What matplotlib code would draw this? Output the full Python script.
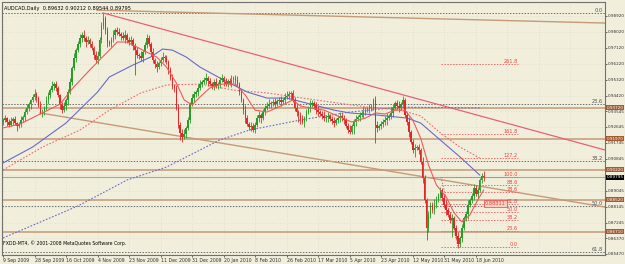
import numpy as np
import matplotlib
matplotlib.use("Agg")
import matplotlib.pyplot as plt

# ---- data (prices in pips, /1e4 later) ----
date_labels = ["9 Sep 2009", "28 Sep 2009", "16 Oct 2009", "4 Nov 2009", "23 Nov 2009",
               "11 Dec 2009", "31 Dec 2009", "20 Jan 2010", "8 Feb 2010", "26 Feb 2010",
               "17 Mar 2010", "5 Apr 2010", "23 Apr 2010", "12 May 2010", "31 May 2010",
               "18 Jun 2010"]

first_open = 9290
close_pips = [
    9304, 9315, 9293, 9276, 9298, 9310, 9287, 9270, 9281, 9304,
    9321, 9349, 9372, 9394, 9417, 9434, 9451, 9428, 9389, 9349,
    9349, 9372, 9417, 9445, 9473, 9496, 9507, 9485, 9445, 9389, 9360, 9383, 9417, 9462, 9519,
    9598, 9654, 9699, 9733, 9767, 9784, 9767, 9745, 9756, 9733, 9711, 9671, 9643, 9666, 9756, 9835, 9880,
    9812, 9745, 9733, 9756, 9784, 9812, 9801, 9790, 9779, 9767, 9784, 9756, 9745, 9756, 9722, 9699, 9671,
    9666, 9654, 9688, 9728,
    9767, 9733, 9688, 9643, 9620, 9603, 9626, 9643, 9660, 9654, 9632, 9586, 9541, 9496,
    9485, 9372, 9276, 9231, 9208, 9225, 9259, 9304, 9394, 9428, 9451, 9462, 9485, 9507,
    9519, 9530, 9541, 9524, 9507, 9496, 9519, 9496, 9507, 9530, 9541,
    9519, 9507, 9524, 9513, 9530, 9541, 9530, 9507, 9462, 9417, 9360, 9315, 9281, 9264, 9270, 9247,
    9276, 9315, 9332, 9315,
    9349, 9372, 9383, 9394, 9400, 9406, 9394, 9411, 9417, 9406, 9417, 9434, 9440, 9451, 9457, 9417,
    9372, 9349, 9332, 9304,
    9293, 9315, 9349, 9372, 9394, 9400, 9383, 9360, 9349, 9338, 9327, 9315, 9321, 9327, 9310, 9298,
    9287, 9304, 9315, 9327,
    9315, 9304, 9270, 9247, 9236, 9270, 9293, 9310, 9321, 9332, 9344, 9349, 9360, 9366, 9372, 9377,
    9417, 9276, 9259, 9270,
    9281, 9293, 9304, 9315, 9327, 9344, 9372, 9400, 9383, 9372, 9394, 9417,
    9332, 9293, 9236, 9180, 9134, 9146, 9151, 9134, 9067, 8976,
    8852, 8694, 8767, 8824, 8795, 8829, 8852, 8880, 8908, 8863, 8824, 8795, 8767, 8739, 8750, 8694,
    8649, 8603, 8637, 8694, 8750, 8773, 8824, 8852, 8875, 8920, 8886, 8908, 8965, 8988, 8979.5,
]
hi_ext = [
    12, 20, 8, 15, 25, 10, 18, 6, 14, 22,  10, 16, 24, 12, 8, 18, 30, 14, 10, 20,
    15, 12, 22, 18, 10, 26, 14, 20, 12, 8,  18, 24, 10, 16, 20, 14, 28, 12, 18, 22,
    16, 26, 12, 20, 14, 18, 10, 24, 30, 16,  22, 28, 14, 20, 10, 18, 26, 12, 16, 22,
    14, 20, 28, 10, 18, 24, 12, 16, 20, 14,  26, 12, 18, 22, 16, 10, 24, 14, 20, 12,
    18, 26, 14, 20, 10, 16, 22, 12, 18, 24,  14, 20, 26, 10, 18, 12, 22, 16, 14, 20,
    24, 12, 18, 26, 14, 20, 10, 16, 22, 12,  18, 24, 14, 20, 12, 16, 26, 10, 18, 22,
    14, 20, 12, 26, 16, 10, 22, 18, 14, 20,  24, 12, 18, 14, 20, 26, 10, 16, 22, 12,
    18, 24, 14, 20, 30, 16, 12, 15, 18, 22,  14, 20, 26, 12, 18, 10, 24, 16, 14, 20,
    22, 12, 18, 26, 14, 20, 10, 16, 22, 12,  18, 24, 14, 20, 12, 16, 26, 10, 18, 22,
    14, 20, 12, 26, 16, 10, 22, 18, 14, 20,  24, 12, 18, 14, 20, 26, 10, 36, 22, 12,
    18, 30, 14, 20, 12, 16, 26, 10, 18, 22,  14, 20, 12, 26, 16, 10, 22, 18, 14, 30,
    24, 12, 18, 14, 20, 26, 10, 16, 22, 12,  18, 24, 14, 20, 12, 16, 26, 10, 18, 22,
    14, 20, 12, 16, 28,
]
lo_ext = [
    16, 10, 22, 14, 8, 20, 12, 26, 10, 18,  14, 22, 10, 18, 26, 12, 16, 20, 14, 10,
    30, 16, 12, 20, 14, 10, 24, 18, 12, 22,  16, 10, 20, 26, 12, 18, 14, 22, 10, 16,
    20, 14, 26, 12, 18, 10, 22, 16, 24, 12,  18, 14, 20, 26, 12, 16, 10, 22, 18, 14,
    20, 12, 26, 16, 18, 18, 22, 140, 14, 20,  16, 24, 12, 18, 10, 22, 14, 20, 26, 12,
    18, 10, 24, 14, 20, 12, 16, 22, 10, 18,  40, 26, 14, 20, 12, 18, 10, 22, 16, 24,
    12, 18, 14, 20, 26, 10, 16, 22, 12, 18,  24, 14, 20, 12, 18, 10, 22, 16, 26, 12,
    18, 14, 20, 26, 10, 16, 22, 12, 18, 14,  20, 26, 12, 18, 14, 10, 22, 16, 20, 12,
    18, 24, 14, 20, 12, 16, 26, 10, 18, 22,  40, 20, 12, 26, 16, 10, 22, 18, 14, 20,
    24, 12, 18, 14, 20, 26, 10, 16, 22, 12,  18, 24, 14, 20, 12, 16, 12, 10, 45, 22,
    14, 20, 12, 26, 16, 10, 22, 18, 14, 100,  24, 12, 18, 14, 20, 26, 10, 16, 22, 12,
    18, 24, 14, 20, 12, 16, 26, 10, 18, 40,  14, 20, 12, 26, 16, 68, 22, 18, 14, 20,
    24, 12, 18, 14, 20, 26, 10, 16, 95, 12,  18, 24, 14, 20, 12, 16, 26, 10, 18, 22,
    14, 20, 12, 16, 18,
]

# moving averages: (bar, pips)
ma_fast_bar = [0, 8.6, 20, 29, 35.5, 44, 49, 54, 58, 63, 67, 71, 78, 83, 88, 92, 96, 100, 105, 111,
               118, 123, 128, 134, 141, 147, 151, 156, 163, 171, 177, 184, 189, 194, 199, 204, 208,
               212, 216, 220, 225, 229, 233, 237, 241, 244]
ma_fast_val = [9259, 9281, 9344, 9394, 9485, 9586, 9643, 9699, 9745, 9745, 9722, 9699, 9660, 9603,
               9513, 9417, 9389, 9434, 9485, 9507, 9507, 9445, 9360, 9349, 9383, 9417, 9383, 9372,
               9360, 9321, 9293, 9315, 9344, 9338, 9360, 9360, 9304, 9202, 9050, 8937, 8869, 8779,
               8728, 8767, 8852, 8908]
ma_mid_bar = [0, 20, 39, 54, 70, 83, 100, 117, 134, 159, 185, 202, 212, 222, 232, 242]
ma_mid_val = [9021, 9151, 9247, 9360, 9457, 9502, 9507, 9473, 9457, 9417, 9377, 9360, 9327, 9231,
              9151, 9089]
ma_slow_bar = [0, 15, 32, 48, 54, 66, 75, 81, 86, 93, 100, 112, 124, 134, 144, 154, 168, 176, 190,
               205, 212, 222, 232, 242]
ma_slow_val = [9061, 9151, 9287, 9462, 9547, 9615, 9660, 9705, 9699, 9660, 9603, 9530, 9462, 9428,
               9428, 9400, 9360, 9344, 9332, 9315, 9287, 9191, 9095, 8993]
ma_long_bar = [0, 38, 63, 83, 110, 125, 151, 176, 202, 242]
ma_long_val = [8637, 8818, 8965, 9038, 9191, 9247, 9304, 9349, 9377, 9372]

# horizontal lines and trend lines
hlines = [0.9372, 0.9197, 0.9022, 0.8852, 0.8671]
trend_top = ([47.7, 305.6], [0.9925, 0.9852])
trend_pink = ([50.8, 305.6], [0.9909, 0.91345])
trend_chan = ([18.8, 305.6], [0.9344, 0.8812])

fib1_hi, fib1_lo = 0.9909, 0.7722
fib1_levels = [0.0, 23.6, 38.2, 50.0, 61.8]
fib2_lo, fib2_hi = 0.8586, 0.8982
fib2_levels = [0.0, 23.6, 38.2, 50.0, 61.8, 78.6, 88.6, 100.0, 127.2, 161.8, 261.8]
fib2_tag = 0.88311

ytick_vals = [0.98920, 0.98020, 0.97120, 0.96220, 0.95320, 0.94420, 0.93545, 0.92645, 0.91745,
              0.90845, 0.89945, 0.89045, 0.88145, 0.87245, 0.86370, 0.85470]
# label hidden behind the current-price box in the terminal
ytick_hidden = 0.89945

# ---- derived ----
close = np.array(close_pips) / 1e4
opn = np.r_[first_open / 1e4, close[:-1]]
high = np.maximum(opn, close) + np.array(hi_ext) / 1e4
low = np.minimum(opn, close) - np.array(lo_ext) / 1e4
idx = np.arange(len(close))
last = close[-1]

BG = "#F1EFDC"
GREEN = "#2A9A2A"
RED = "#E02828"
TAN = "#C49A78"
BOX = "#A65A34"
FS = 3.6
FS_AX = 3.0

fig = plt.figure(figsize=(6.25, 2.64), dpi=100, facecolor=BG)
ax = fig.add_axes([2 / 625, 1 - 255 / 264, 603 / 625, 253 / 264], facecolor=BG)
ax.set_xlim(-0.5, 305.6)
ax.set_ylim(0.8541, 0.9971)

# grid
for v in ytick_vals:
    ax.axhline(v, color="#D6D4BE", lw=0.5, ls=(0, (1, 3)), zorder=0)
for b in range(0, 306, 16):
    ax.axvline(b, color="#D6D4BE", lw=0.5, ls=(0, (1, 3)), zorder=0)

# fibo 1 (full width dotted)
for lv in fib1_levels:
    p = fib1_hi - lv / 100 * (fib1_hi - fib1_lo)
    ax.axhline(p, color="#6E6E6E", lw=0.7, ls=(0, (1.5, 1.5)), zorder=1)
    ax.text(304.5, p, "%.1f" % lv, fontsize=FS, color="#505050", ha="right", va="bottom")

# horizontal lines
for p in hlines:
    ax.axhline(p, color=TAN, lw=1.1, zorder=1)
ax.axhline(last, color="#A8A898", lw=0.8, zorder=1)

# trend lines
ax.plot(*trend_top, color=TAN, lw=1.0, zorder=1)
ax.plot(*trend_pink, color="#E8607A", lw=0.9, zorder=1)
ax.plot(*trend_chan, color=TAN, lw=1.0, zorder=1)

# moving averages
ax.plot(ma_long_bar, np.array(ma_long_val) / 1e4, color="#6A6AC8", lw=0.8, ls=(0, (1.5, 1.5)), zorder=2)
ax.plot(ma_mid_bar, np.array(ma_mid_val) / 1e4, color="#F06A6A", lw=0.8, ls=(0, (1.5, 1.5)), zorder=2)
ax.plot(ma_slow_bar, np.array(ma_slow_val) / 1e4, color="#6A6AC8", lw=0.8, zorder=2)

# candles
up = close >= opn
ax.vlines(idx, low, high, colors=np.where(up, GREEN, RED), lw=0.6, zorder=3)
ax.bar(idx, np.abs(close - opn) + 0.00008, bottom=np.minimum(opn, close), width=0.8,
       color=np.where(up, GREEN, RED), lw=0, zorder=3)

ax.plot(ma_fast_bar, np.array(ma_fast_val) / 1e4, color="#F05A5A", lw=0.8, zorder=4)

# fibo 2 (red dotted expansion)
for lv in fib2_levels:
    p = fib2_lo + lv / 100 * (fib2_hi - fib2_lo)
    ax.plot([222.3, 261.4], [p, p], color="#F06A6A", lw=0.7, ls=(0, (1.5, 1.5)), zorder=2)
    ax.text(261.4, p, "%.1f" % lv, fontsize=FS, color="#F04040", ha="right", va="bottom")
ax.plot([222.3, 231], [fib2_hi, fib2_lo], color="#F06A6A", lw=0.7, ls=(0, (1.5, 1.5)), zorder=2)
ax.text(250, fib2_tag, "%.5f" % fib2_tag, fontsize=FS, color="#F04040", ha="center", va="center",
        zorder=6, bbox=dict(boxstyle="square,pad=0.15", fc="#F6D0C0", ec="#F04040", lw=0.5))

# axes / ticks
ax.yaxis.tick_right()
ax.set_yticks(ytick_vals)
ax.set_yticklabels(["" if v == ytick_hidden else "%.5f" % v for v in ytick_vals])
ax.set_xticks(range(0, 241, 16))
ax.set_xticklabels(date_labels, ha="left")
ax.tick_params(axis="both", labelsize=FS_AX, length=1.5, width=0.5, pad=0.8, colors="#303030")
ax.tick_params(axis="x", labelsize=3.35)
for s in ax.spines.values():
    s.set_color("#707070")
    s.set_linewidth(0.8)

# price boxes on the right axis
for p in hlines:
    ax.text(1.0025, p, "%.5f" % p, transform=ax.get_yaxis_transform(), fontsize=FS_AX, color="white",
            ha="left", va="center", zorder=6, clip_on=False,
            bbox=dict(boxstyle="square,pad=0.12", fc=BOX, ec="none"))
ax.text(1.0025, last, "%.5f" % last, transform=ax.get_yaxis_transform(), fontsize=FS_AX, color="white",
        ha="left", va="center", zorder=6, clip_on=False,
        bbox=dict(boxstyle="square,pad=0.12", fc="black", ec="none"))

ax.text(0.004, 0.985, "AUDCAD,Daily  0.89632 0.90212 0.89544 0.89795", transform=ax.transAxes,
        fontsize=FS, color="black", va="top")
ax.text(0.002, 0.035, "FXDD-MT4, \u00a9 2001-2008 MetaQuotes Software Corp.", transform=ax.transAxes,
        fontsize=3.3, color="black", va="bottom")

fig.savefig("out.png", dpi=100, facecolor=BG)
